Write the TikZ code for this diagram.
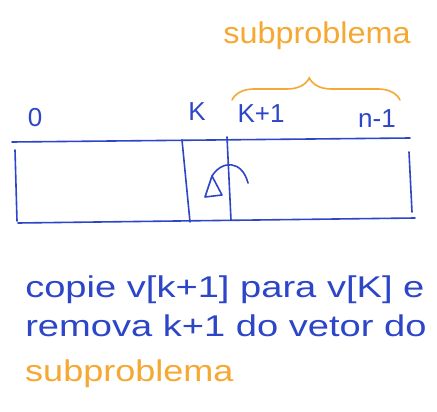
\documentclass[tikz,border=0pt]{standalone}
\usepackage{fontspec}
\setmainfont{Liberation Sans}
\usetikzlibrary{decorations.pathreplacing}
\definecolor{penblue}{RGB}{45,70,200}
\definecolor{penorange}{RGB}{245,168,50}
\tikzset{
  pen/.style={draw=penblue,line width=1.6pt,line cap=round,line join=round},
  lbl/.style={text=penblue,font=\fontsize{26}{26}\selectfont,inner sep=0pt},
  txt/.style={text=penblue,font=\fontsize{30}{30}\selectfont,inner sep=0pt,anchor=west,xscale=1.27},
  otxt/.style={text=penorange,font=\fontsize{30}{30}\selectfont,inner sep=0pt,xscale=1.2},
}
\begin{document}
\begin{tikzpicture}[x=1pt,y=-1pt]
\useasboundingbox[fill=white] (0,0) rectangle (437,412);
% top orange label and brace
\node[otxt,xscale=0.9] (sub) at (317,36) {subproblema};
\coordinate (bl) at (232,100);
\coordinate (br) at (400,100);
\draw[draw=penorange,line width=1.6pt,line cap=round,decorate,decoration={brace,amplitude=22pt,aspect=0.46}] (bl) -- (br);
% index labels
\node[lbl] (l0) at (35,118) {0};
\node[lbl] (lk) at (197,112) {K};
\node[lbl] (lk1) at (261,114) {K+1};
\node[lbl] (ln) at (377,119) {n-1};
% vector
\coordinate (tl) at (12,142);
\coordinate (tr) at (410,138);
\coordinate (bL) at (18,223);
\coordinate (bR) at (415,218);
\draw[pen] (tl) -- (tr);
\draw[pen] (bL) -- (bR);
\draw[pen] (15,150) -- (17,221);
\draw[pen] (409,152) -- (412,212);
\coordinate (d1t) at (182,140);
\coordinate (d1b) at (190,222);
\coordinate (d2t) at (227,137);
\coordinate (d2b) at (231,220);
\draw[pen] (d1t) -- (d1b);
\draw[pen] (d2t) -- (d2b);
% arrow with hand-drawn triangle head
\coordinate (as) at (248,183);
\coordinate (ae) at (212,176);
\draw[pen] (as) .. controls (242,160) and (222,160) .. (ae);
\draw[pen] (ae) -- (205,197) -- (222,195) -- cycle;
% bottom text
\node[txt] (t1) at (25,290) {copie v[k+1] para v[K] e};
\node[txt] (t2) at (25,326) {remova k+1 do vetor do};
\node[otxt,anchor=west] (t3) at (25,374) {subproblema};
\end{tikzpicture}
\end{document}
